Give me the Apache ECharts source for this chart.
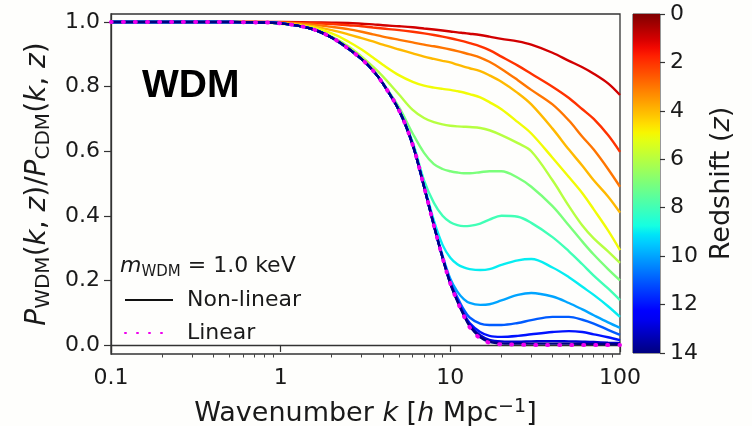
<!DOCTYPE html>
<html><head><meta charset="utf-8">
<script src="https://cdn.jsdelivr.net/npm/echarts@6/dist/echarts.min.js"></script>
<style>html,body{margin:0;padding:0;background:#fefefc}#c{width:752px;height:426px}</style>
</head><body><div id="c"></div>
<script>
// ---- data ----
const kValues = [0.1,0.2,0.3,0.5,0.7,1,1.5,2,2.5,3,3.5,4,5,6,7,8,9,10,11,12,13,15,17,20,25,30,40,50,60,70,85,100];
const redshifts = [1,2,3,4,5,6,7,8,9,10,11,12,13,14];
const nl_z1  = [1,1,1,1,1,1,0.999,0.998,0.997,0.995,0.993,0.99,0.987,0.984,0.98,0.977,0.974,0.971,0.968,0.966,0.964,0.96,0.955,0.948,0.94,0.93,0.905,0.88,0.86,0.84,0.81,0.774];
const nl_z2  = [1,1,1,1,1,0.999,0.997,0.994,0.99,0.987,0.983,0.98,0.975,0.97,0.965,0.96,0.955,0.95,0.945,0.94,0.935,0.925,0.913,0.893,0.865,0.84,0.80,0.765,0.73,0.70,0.65,0.598];
const nl_z3  = [1,1,1,1,1,0.998,0.993,0.985,0.978,0.97,0.962,0.955,0.945,0.937,0.93,0.925,0.92,0.915,0.91,0.905,0.9,0.89,0.877,0.855,0.82,0.79,0.745,0.695,0.645,0.605,0.545,0.49];
const nl_z4  = [1,1,1,1,0.999,0.997,0.988,0.975,0.962,0.95,0.94,0.93,0.915,0.903,0.893,0.886,0.88,0.875,0.868,0.862,0.857,0.848,0.835,0.815,0.78,0.745,0.67,0.605,0.555,0.51,0.46,0.41];
const nl_z5  = [1,1,1,1,0.999,0.995,0.985,0.965,0.94,0.915,0.89,0.868,0.835,0.815,0.803,0.797,0.793,0.79,0.786,0.782,0.777,0.767,0.752,0.73,0.69,0.655,0.58,0.52,0.47,0.42,0.355,0.294];
const nl_z6  = [1,1,1,1,0.999,0.996,0.981,0.955,0.925,0.893,0.862,0.832,0.775,0.728,0.703,0.69,0.683,0.679,0.677,0.676,0.675,0.672,0.665,0.65,0.625,0.6,0.51,0.43,0.37,0.33,0.29,0.254];
const nl_z7  = [1,1,1,1,0.999,0.996,0.98,0.953,0.92,0.886,0.851,0.812,0.735,0.655,0.595,0.56,0.545,0.538,0.534,0.532,0.532,0.535,0.538,0.538,0.518,0.49,0.43,0.37,0.32,0.28,0.235,0.20];
const nl_z8  = [1,1,1,1,0.999,0.996,0.98,0.952,0.918,0.885,0.85,0.81,0.727,0.628,0.51,0.44,0.4,0.38,0.371,0.368,0.369,0.376,0.388,0.4,0.397,0.378,0.334,0.29,0.25,0.215,0.175,0.139];
const nl_z9  = [1,1,1,1,0.999,0.996,0.98,0.952,0.918,0.885,0.85,0.81,0.726,0.622,0.497,0.385,0.31,0.27,0.25,0.24,0.235,0.232,0.235,0.248,0.262,0.266,0.24,0.21,0.18,0.155,0.12,0.087];
const nl_z10 = [1,1,1,1,0.999,0.996,0.98,0.952,0.918,0.885,0.85,0.81,0.725,0.621,0.492,0.373,0.277,0.205,0.165,0.142,0.13,0.124,0.126,0.138,0.155,0.161,0.15,0.13,0.11,0.092,0.07,0.053];
const nl_z11 = [1,1,1,1,0.999,0.996,0.98,0.952,0.918,0.885,0.85,0.81,0.725,0.62,0.49,0.371,0.272,0.195,0.148,0.11,0.085,0.066,0.062,0.062,0.068,0.077,0.087,0.087,0.078,0.066,0.047,0.031];
const nl_z12 = [1,1,1,1,0.999,0.996,0.98,0.952,0.918,0.885,0.85,0.81,0.725,0.62,0.49,0.37,0.27,0.192,0.14,0.098,0.068,0.04,0.028,0.025,0.028,0.033,0.04,0.043,0.04,0.033,0.024,0.015];
const nl_z13 = [1,1,1,1,0.999,0.996,0.98,0.952,0.918,0.885,0.85,0.81,0.725,0.62,0.49,0.37,0.27,0.19,0.137,0.094,0.062,0.03,0.016,0.011,0.01,0.011,0.012,0.011,0.01,0.009,0.007,0.006];
const nl_z14 = [1,1,1,1,0.999,0.996,0.98,0.952,0.918,0.885,0.85,0.81,0.725,0.62,0.49,0.37,0.27,0.19,0.135,0.092,0.058,0.024,0.01,0.005,0.004,0.004,0.004,0.004,0.0035,0.003,0.003,0.002];
const linearRatio = [1,1,1,1,0.999,0.996,0.98,0.952,0.918,0.885,0.85,0.81,0.725,0.62,0.49,0.37,0.27,0.19,0.135,0.09,0.055,0.02,0.007,0.002,0.001,0,0,0,0,0,0,0];
const nonLinear = [nl_z1,nl_z2,nl_z3,nl_z4,nl_z5,nl_z6,nl_z7,nl_z8,nl_z9,nl_z10,nl_z11,nl_z12,nl_z13,nl_z14];
const yTicks = [0,0.2,0.4,0.6,0.8,1.0];
const xMinorTicks = [0.2,0.3,0.4,0.5,0.6,0.7,0.8,0.9,2,3,4,5,6,7,8,9,20,30,40,50,60,70,80,90];
const zTicks = [0,2,4,6,8,10,12,14];
const zMax = 14;

// ---- jet colormap ----
const JR=[[0,0],[0.35,0],[0.66,1],[0.89,1],[1,0.5]];
const JG=[[0,0],[0.125,0],[0.375,1],[0.64,1],[0.91,0],[1,0]];
const JB=[[0,0.5],[0.11,1],[0.34,1],[0.65,0],[1,0]];
function seg(s,t){for(let i=1;i<s.length;i++){if(t<=s[i][0]){const a=s[i-1],b=s[i];return a[1]+(b[1]-a[1])*(t-a[0])/(b[0]-a[0]);}}return s[s.length-1][1];}
function jet(t){const r=Math.round(255*seg(JR,t)),g=Math.round(255*seg(JG,t)),b=Math.round(255*seg(JB,t));return 'rgb('+r+','+g+','+b+')';}
function zColor(z){return jet(1-z/zMax);}
const cbStops=[];for(let i=0;i<=40;i++){cbStops.push({offset:i/40,color:jet(1-i/40)});}

const FF='DejaVu Sans';
const TXT='#1a1a1a';
const series=[];
redshifts.forEach((z,j)=>{
  series.push({type:'line',name:'z='+z,xAxisIndex:0,yAxisIndex:0,showSymbol:false,symbol:'none',smooth:0.35,
    data:kValues.map((k,i)=>[k,nonLinear[j][i]]),lineStyle:{width:2.4,color:zColor(z)},color:zColor(z),z:2+j});
});
series.push({type:'line',name:'Non-linear',xAxisIndex:0,yAxisIndex:0,symbol:'none',data:[],color:'#111',lineStyle:{width:2.4,color:'#111'}});
series.push({type:'line',name:'Linear',xAxisIndex:0,yAxisIndex:0,symbol:'none',showSymbol:false,smooth:0.35,
  data:kValues.map((k,i)=>[k,linearRatio[i]]),color:'#ee00ee',
  lineStyle:{width:4,color:'#ee00ee',type:[1,11],cap:'round'},z:30});
series.push({type:'bar',xAxisIndex:2,yAxisIndex:1,data:[zMax],barWidth:'100%',silent:true,
  itemStyle:{color:new echarts.graphic.LinearGradient(0,0,0,1,cbStops)}});

const main={fontFamily:FF,fontSize:27,color:TXT,lineHeight:32,verticalAlign:'middle'};
const ital=Object.assign({},main,{fontStyle:'italic'});
const sub={fontFamily:FF,fontSize:19,color:TXT,lineHeight:14,verticalAlign:'bottom'};
const sup={fontFamily:FF,fontSize:19,color:TXT,lineHeight:14,verticalAlign:'top'};
const mainY=Object.assign({},main,{fontSize:28});
const italY=Object.assign({},ital,{fontSize:28});
const subY=Object.assign({},sub,{fontSize:20});

const option={
  backgroundColor:'#fefefc',
  animation:false,
  grid:[
    {left:111,top:14,width:509,height:340,show:true,borderColor:'#333',borderWidth:1.3,containLabel:false,outerBoundsMode:'none'},
    {left:633,top:14,width:27,height:339,show:true,borderColor:'#333',borderWidth:1,containLabel:false,outerBoundsMode:'none'}
  ],
  xAxis:[
    {type:'log',gridIndex:0,logBase:10,min:0.1,max:100,position:'bottom',
     axisLine:{show:true,lineStyle:{color:'#333',width:1.3}},
     axisTick:{show:true,length:7,lineStyle:{color:'#333',width:1.2}},
     axisLabel:{fontFamily:FF,fontSize:22,color:TXT,margin:13,formatter:v=>String(v)},
     splitLine:{show:false},
     name:'{n|Wavenumber }{i|k}{n| [}{i|h}{n| Mpc}{p|−1}{n|]}',nameLocation:'middle',nameGap:44,
     nameTextStyle:{rich:{n:main,i:ital,p:sup}}},
    {type:'log',gridIndex:0,logBase:10,min:0.1,max:100,position:'bottom',
     axisLine:{show:false},axisLabel:{show:false},splitLine:{show:false},
     axisTick:{show:true,length:3.5,customValues:xMinorTicks,lineStyle:{color:'#444',width:1}}},
    {type:'category',gridIndex:1,data:['cb'],show:false,boundaryGap:true}
  ],
  yAxis:[
    {type:'value',gridIndex:0,min:-0.028,max:1.025,
     axisLine:{show:true,lineStyle:{color:'#333',width:1.3}},
     axisTick:{show:true,length:7,customValues:yTicks,lineStyle:{color:'#333',width:1.2}},
     axisLabel:{fontFamily:FF,fontSize:22,color:TXT,margin:11,customValues:yTicks,formatter:v=>v.toFixed(1)},
     splitLine:{show:false},
     name:'{i|P}{s|WDM}{n|(}{i|k}{n|, }{i|z}{n|)/}{i|P}{s|CDM}{n|(}{i|k}{n|, }{i|z}{n|)}',
     nameLocation:'middle',nameRotate:90,nameGap:52,
     nameTextStyle:{rich:{n:mainY,i:italY,s:subY}}},
    {type:'value',gridIndex:1,min:0,max:zMax,interval:2,inverse:true,position:'right',
     axisLine:{show:false},
     axisTick:{show:true,length:5,inside:false,lineStyle:{color:'#333',width:1.2}},
     axisLabel:{fontFamily:FF,fontSize:22,color:TXT,margin:10},
     splitLine:{show:false},
     name:'{n|Redshift (}{i|z}{n|)}',nameLocation:'middle',nameRotate:90,nameGap:46,
     nameTextStyle:{rich:{n:main,i:ital}}}
  ],
  legend:{data:['Non-linear','Linear'],orient:'vertical',left:119,top:284,itemGap:11,itemWidth:48,itemHeight:14,
    itemStyle:{opacity:0},
    textStyle:{fontFamily:FF,fontSize:22,color:TXT,padding:[0,0,0,9]}},
  graphic:[
    {type:'text',left:142,top:67,style:{text:'WDM',font:'bold 39px "Liberation Sans", Arial, sans-serif',fill:'#000'}},
    {type:'text',left:120,top:255,style:{text:'{i|m}{s|WDM}{n| = 1.0 keV}',
      rich:{n:{fontFamily:FF,fontSize:22,fill:TXT,lineHeight:28,verticalAlign:'middle'},
            i:{fontFamily:FF,fontSize:22,fontStyle:'italic',fill:TXT,lineHeight:28,verticalAlign:'middle'},
            s:{fontFamily:FF,fontSize:15,fill:TXT,lineHeight:12,verticalAlign:'bottom'}}}}
  ],
  series:series
};
const chart=echarts.init(document.getElementById('c'),null,{renderer:'canvas'});
chart.setOption(option);
</script></body></html>
